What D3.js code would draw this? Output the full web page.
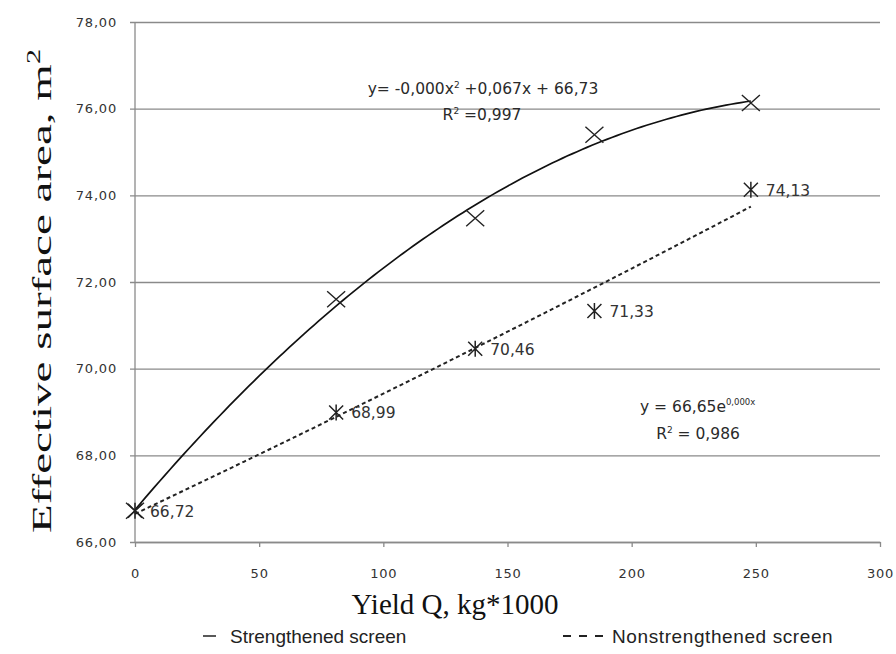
<!DOCTYPE html>
<html>
<head>
<meta charset="utf-8">
<script src="https://cdn.jsdelivr.net/npm/d3@7"></script>
<style>
  body { margin: 0; background: #fff; }
  svg { display: block; }
</style>
</head>
<body>
<div id="chart"></div>
<script>
// data
const yieldQ = [0, 81, 137, 185, 248];
const strengthened = [66.72, 71.6, 73.47, 75.4, 76.13];
const nonstrengthened = [66.72, 68.99, 70.46, 71.33, 74.13];
const nonLabels = ['66,72', '68,99', '70,46', '71,33', '74,13'];
const xTicks = [0, 50, 100, 150, 200, 250, 300];
const yTicks = [66, 68, 70, 72, 74, 76, 78];

const margin = { left: 135, right: 16, top: 22, bottom: 112 };
const width = 896, height = 654;
const chartWidth = width - margin.left - margin.right;
const chartHeight = height - margin.top - margin.bottom;

const comma = d3.formatLocale({ decimal: ',', thousands: ' ', grouping: [3], currency: ['', ''] });
const fmtY = comma.format('.2f');
const sans = '"DejaVu Sans", sans-serif';

var scaleX = d3.scaleLinear().domain([0, 300]).range([0, chartWidth]);
var scaleY = d3.scaleLinear().domain([66, 78]).range([chartHeight, 0]);

var svg = d3.select('#chart')
  .append('svg')
  .attr('width', width)
  .attr('height', height);

var g = svg.append('g')
  .attr('transform', 'translate(' + margin.left + ',' + margin.top + ')');

// gridlines + y axis
var axisY = d3.axisLeft(scaleY).tickValues(yTicks).tickSize(-chartWidth).tickSizeOuter(0).tickPadding(18).tickFormat(fmtY);
var gy = g.append('g').call(axisY);
gy.select('.domain').remove();
gy.selectAll('.tick line').attr('stroke', '#8a8a8a').attr('stroke-width', 1.3).attr('x1', -5);
gy.selectAll('.tick text')
  .attr('font-family', sans)
  .attr('font-size', 13)
  .attr('letter-spacing', 0.8)
  .attr('fill', '#333');

g.append('line')
  .attr('x1', 0).attr('x2', 0).attr('y1', 0).attr('y2', chartHeight)
  .attr('stroke', '#8a8a8a').attr('stroke-width', 1.3);

// x axis
var axisX = d3.axisBottom(scaleX).tickValues(xTicks).tickSize(5).tickSizeOuter(0).tickPadding(22);
var gx = g.append('g').attr('transform', 'translate(0,' + chartHeight + ')').call(axisX);
gx.select('.domain').attr('stroke', '#8a8a8a').attr('stroke-width', 1.3);
gx.selectAll('.tick line').attr('stroke', '#8a8a8a').attr('stroke-width', 1.3);
gx.selectAll('.tick text')
  .attr('font-family', sans)
  .attr('font-size', 13)
  .attr('letter-spacing', 0.8)
  .attr('fill', '#333');

// least squares fits for the trendlines
function fitQuad(xs, ys) {
  var s = [0, 0, 0, 0, 0], t = [0, 0, 0];
  xs.forEach(function (x, i) {
    for (var k = 0; k < 5; k++) s[k] += Math.pow(x, k);
    for (var k2 = 0; k2 < 3; k2++) t[k2] += ys[i] * Math.pow(x, k2);
  });
  var m = [[s[0], s[1], s[2], t[0]], [s[1], s[2], s[3], t[1]], [s[2], s[3], s[4], t[2]]];
  for (var c = 0; c < 3; c++) {
    for (var r = c + 1; r < 3; r++) {
      var f = m[r][c] / m[c][c];
      for (var j = c; j < 4; j++) m[r][j] -= f * m[c][j];
    }
  }
  var b = [0, 0, 0];
  for (var r2 = 2; r2 >= 0; r2--) {
    var v = m[r2][3];
    for (var j2 = r2 + 1; j2 < 3; j2++) v -= m[r2][j2] * b[j2];
    b[r2] = v / m[r2][r2];
  }
  return function (x) { return b[0] + b[1] * x + b[2] * x * x; };
}

function fitExp(xs, ys) {
  var n = xs.length;
  var ly = ys.map(Math.log);
  var mx = d3.mean(xs), my = d3.mean(ly);
  var num = 0, den = 0;
  for (var i = 0; i < n; i++) {
    num += (xs[i] - mx) * (ly[i] - my);
    den += (xs[i] - mx) * (xs[i] - mx);
  }
  var k = num / den, a = Math.exp(my - k * mx);
  return function (x) { return a * Math.exp(k * x); };
}

var quad = fitQuad(yieldQ, strengthened);
var expo = fitExp(yieldQ, nonstrengthened);
var xs = d3.range(0, 248.01, 2);

var line = d3.line()
  .x(function (d) { return scaleX(d[0]); })
  .y(function (d) { return scaleY(d[1]); });

g.append('path')
  .attr('d', line(xs.map(function (x) { return [x, quad(x)]; })))
  .attr('fill', 'none')
  .attr('stroke', '#111')
  .attr('stroke-width', 1.7);

g.append('path')
  .attr('d', line(xs.map(function (x) { return [x, expo(x)]; })))
  .attr('fill', 'none')
  .attr('stroke', '#222')
  .attr('stroke-width', 2)
  .attr('stroke-dasharray', '4,3');

// markers
function xMark(w, h) {
  return 'M' + (-w) + ',' + (-h) + 'L' + w + ',' + h + 'M' + (-w) + ',' + h + 'L' + w + ',' + (-h);
}
var crossPath = xMark(9, 8);
var starPath = xMark(7, 7) + 'M0,-8L0,8';

g.selectAll('.s-mark')
  .data(yieldQ)
  .enter()
  .append('path')
  .attr('class', 's-mark')
  .attr('d', crossPath)
  .attr('transform', function (d, i) {
    return 'translate(' + scaleX(d) + ',' + scaleY(strengthened[i]) + ')';
  })
  .attr('stroke', '#222')
  .attr('stroke-width', 1.4)
  .attr('fill', 'none');

g.selectAll('.n-mark')
  .data(yieldQ)
  .enter()
  .append('path')
  .attr('class', 'n-mark')
  .attr('d', starPath)
  .attr('transform', function (d, i) {
    return 'translate(' + scaleX(d) + ',' + scaleY(nonstrengthened[i]) + ')';
  })
  .attr('stroke', '#222')
  .attr('stroke-width', 1.5)
  .attr('fill', 'none');

g.selectAll('.n-label')
  .data(yieldQ)
  .enter()
  .append('text')
  .attr('class', 'n-label')
  .text(function (d, i) { return nonLabels[i]; })
  .attr('x', function (d) { return scaleX(d) + 15; })
  .attr('y', function (d, i) { return scaleY(nonstrengthened[i]) + 6; })
  .attr('font-family', sans)
  .attr('font-size', 15.5)
  .attr('fill', '#333');

// trendline equations
var eq = svg.append('g')
  .attr('font-family', sans)
  .attr('font-size', 15.5)
  .attr('fill', '#2a2a2a');

var eq1 = eq.append('text').attr('x', 483).attr('y', 94).attr('text-anchor', 'middle');
eq1.append('tspan').text('y= -0,000x');
eq1.append('tspan').text('2').attr('font-size', 9).attr('dy', -6);
eq1.append('tspan').text(' +0,067x + 66,73').attr('dy', 6);

var eq1b = eq.append('text').attr('x', 482).attr('y', 120).attr('text-anchor', 'middle');
eq1b.append('tspan').text('R');
eq1b.append('tspan').text('2').attr('font-size', 9).attr('dy', -6);
eq1b.append('tspan').text(' =0,997').attr('dy', 6);

var eq2 = eq.append('text').attr('x', 640).attr('y', 412);
eq2.append('tspan').text('y = 66,65e');
eq2.append('tspan').text('0,000x').attr('font-size', 8.5).attr('dy', -7);

var eq2b = eq.append('text').attr('x', 698).attr('y', 439).attr('text-anchor', 'middle');
eq2b.append('tspan').text('R');
eq2b.append('tspan').text('2').attr('font-size', 9).attr('dy', -6);
eq2b.append('tspan').text(' = 0,986').attr('dy', 6);

// axis titles (the y title is stretched along its length in the source)
var yTitle = svg.append('text')
  .attr('transform', 'translate(51,291) rotate(-90) scale(1.68,1)')
  .attr('text-anchor', 'middle')
  .attr('font-family', '"Liberation Serif", "Times New Roman", serif')
  .attr('font-size', 28)
  .attr('fill', '#111');
yTitle.append('tspan').text('Effective surface area, m');
yTitle.append('tspan').text('2').attr('font-size', 18).attr('dy', -11);

svg.append('text')
  .text('Yield Q, kg*1000')
  .attr('x', 455)
  .attr('y', 614)
  .attr('text-anchor', 'middle')
  .attr('font-family', '"Liberation Serif", "Times New Roman", serif')
  .attr('font-size', 29)
  .attr('fill', '#111');

// legend
var legend = svg.append('g')
  .attr('font-family', '"Liberation Sans", Arial, sans-serif')
  .attr('font-size', 19)
  .attr('fill', '#222');

legend.append('line')
  .attr('x1', 203).attr('x2', 216).attr('y1', 636).attr('y2', 636)
  .attr('stroke', '#222').attr('stroke-width', 1.5);
legend.append('text').text('Strengthened screen').attr('x', 230).attr('y', 643);

legend.append('line')
  .attr('x1', 563).attr('x2', 603).attr('y1', 636).attr('y2', 636)
  .attr('stroke', '#222').attr('stroke-width', 2)
  .attr('stroke-dasharray', '8,8');
legend.append('text').text('Nonstrengthened screen').attr('x', 612).attr('y', 643)
  .attr('letter-spacing', 0.6);
</script>
</body>
</html>
